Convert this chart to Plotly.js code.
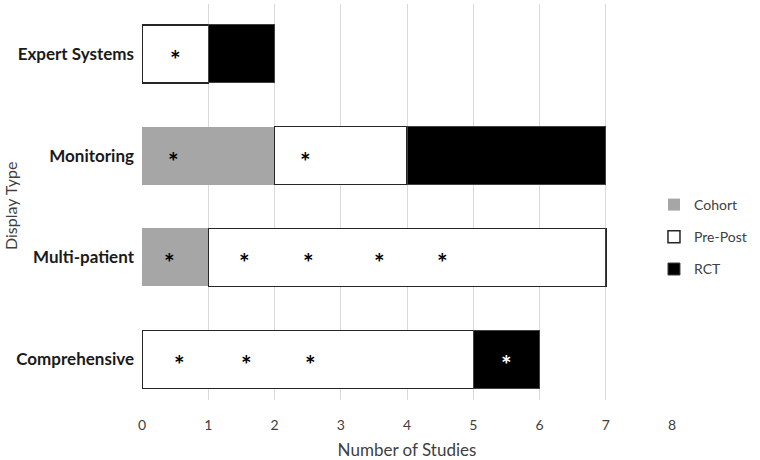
<!DOCTYPE html>
<html>
<head>
<meta charset="utf-8">
<script src="https://cdn.plot.ly/plotly-3.0.1.min.js"></script>
<style>html,body{margin:0;padding:0;background:#fff;}#chart{width:760px;height:460px;}</style>
</head>
<body>
<div id="chart"></div>
<script>
// Categories (bottom to top)
const categories = ['Comprehensive', 'Multi-patient', 'Monitoring', 'Expert Systems'];
// Series values (number of studies)
const cohort  = [0, 1, 2, 0];
const prePost = [5, 6, 2, 1];
const rct     = [1, 0, 3, 1];
// Axis ticks
const xTicks = [0, 1, 2, 3, 4, 5, 6, 7, 8];
// Asterisk markers (approximate positions)
const starX   = [0.50, 0.47, 2.47, 0.42, 1.54, 2.52, 3.58, 4.53, 0.57, 1.57, 2.55];
const starCat = ['Expert Systems', 'Monitoring', 'Monitoring',
                 'Multi-patient', 'Multi-patient', 'Multi-patient', 'Multi-patient', 'Multi-patient',
                 'Comprehensive', 'Comprehensive', 'Comprehensive'];
const whiteStarX   = [5.50];
const whiteStarCat = ['Comprehensive'];

const FONT = 'Lato, "Open Sans", "DejaVu Sans", sans-serif';
const ML = 142, MR = 88, MT = 4, MB = 60;
const PLOT_W = 760 - ML - MR, PLOT_H = 460 - MT - MB;

const traces = [
  {type: 'bar', orientation: 'h', name: 'Cohort', y: categories, x: cohort,
   legendgroup: 'a', marker: {color: '#a6a6a6', line: {width: 0}}, hoverinfo: 'x+name'},
  {type: 'bar', orientation: 'h', name: 'Pre-Post', y: categories, x: prePost,
   legendgroup: 'b', marker: {color: '#ffffff', line: {width: 1.5, color: '#262626'}}, hoverinfo: 'x+name'},
  {type: 'bar', orientation: 'h', name: 'RCT', y: categories, x: rct,
   legendgroup: 'c', marker: {color: '#000000', line: {width: 1, color: '#404040'}}, hoverinfo: 'x+name'}
];

const annotations = [];
starX.forEach((x, i) => annotations.push({
  x: x, y: starCat[i], xref: 'x', yref: 'y', text: '<b>*</b>', showarrow: false,
  font: {family: FONT, size: 25, color: '#000'}, yshift: -5
}));
whiteStarX.forEach((x, i) => annotations.push({
  x: x, y: whiteStarCat[i], xref: 'x', yref: 'y', text: '<b>*</b>', showarrow: false,
  font: {family: FONT, size: 25, color: '#fff'}, yshift: -5
}));
// y-axis title
annotations.push({
  x: (10 - ML) / PLOT_W, xref: 'paper', y: (460 - MB - 206) / PLOT_H, yref: 'paper',
  text: 'Display Type', textangle: -90,
  showarrow: false, xanchor: 'center', yanchor: 'middle',
  font: {family: FONT, size: 16, color: '#404040'}
});

const layout = {
  width: 760, height: 460,
  margin: {l: ML, r: MR, t: MT, b: MB, pad: 0},
  paper_bgcolor: '#fff', plot_bgcolor: '#fff',
  barmode: 'stack', bargap: 0.43,
  font: {family: FONT, color: '#404040'},
  showlegend: true,
  legend: {xref: 'paper', yref: 'paper', x: 0.966, xanchor: 'left',
           y: (460 - MB - 237) / PLOT_H, yanchor: 'middle',
           traceorder: 'grouped', tracegroupgap: 11,
           font: {family: FONT, size: 14, color: '#404040'}, bgcolor: 'rgba(0,0,0,0)'},
  xaxis: {
    range: [0, 8], tickvals: xTicks, ticktext: xTicks.map(String),
    showgrid: true, gridcolor: '#d9d9d9', gridwidth: 1,
    zeroline: false, showline: false, ticks: '',
    tickfont: {family: FONT, size: 14, color: '#404040'}, ticklabelstandoff: 15,
    title: {text: 'Number of Studies', font: {family: FONT, size: 17, color: '#404040'}},
    automargin: false, fixedrange: true
  },
  yaxis: {
    type: 'category', categoryorder: 'array', categoryarray: categories,
    range: [-0.40, 3.49], showgrid: false, zeroline: false, showline: false, ticks: '',
    tickfont: {family: FONT, size: 17, color: '#1a1a1a', weight: 'bold'}, ticklabelstandoff: 7,
    automargin: false, fixedrange: true
  },
  annotations: annotations
};

Plotly.newPlot('chart', traces, layout, {displayModeBar: false, staticPlot: true});
</script>
</body>
</html>
